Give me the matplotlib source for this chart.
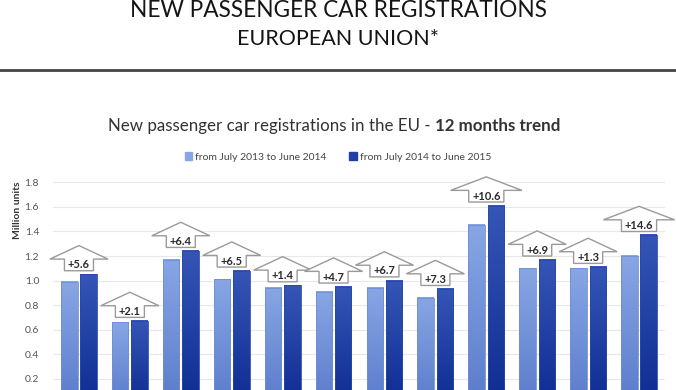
import numpy as np
import matplotlib
matplotlib.use("Agg")
import matplotlib.pyplot as plt
from matplotlib.lines import Line2D

plt.rcParams['font.family'] = ['Lato', 'DejaVu Sans']

# --- data (million units) ---
periods = ["from July 2013 to June 2014", "from July 2014 to June 2015"]
prev_year = [0.99, 0.66, 1.17, 1.01, 0.94, 0.91, 0.94, 0.86, 1.455, 1.10, 1.10, 1.20]
this_year = [1.05, 0.67, 1.24, 1.08, 0.96, 0.95, 1.00, 0.93, 1.61, 1.17, 1.11, 1.37]
growth = ["+5.6", "+2.1", "+6.4", "+6.5", "+1.4", "+4.7", "+6.7", "+7.3",
          "+10.6", "+6.9", "+1.3", "+14.6"]
yticks = [0.2, 0.4, 0.6, 0.8, 1.0, 1.2, 1.4, 1.6, 1.8]

light_top, light_bot = "#88a6e4", "#5b7ccc"
dark_top, dark_bot = "#3556b6", "#0f2c92"

fig = plt.figure(figsize=(6.76, 3.9), dpi=100)

# header
fig.text(0.5, 1 - 17 / 390, "NEW PASSENGER CAR REGISTRATIONS", ha="center",
         va="baseline", fontsize=16.3, color="#151515")
fig.text(0.5, 1 - 45 / 390, "EUROPEAN UNION*", ha="center", va="baseline",
         fontsize=15.5, color="#151515")
fig.add_artist(Line2D([0, 1], [1 - 70 / 390] * 2, color="#454545", lw=2,
                      transform=fig.transFigure))

# subtitle
fig.text(431 / 676, 1 - 131 / 390, "New passenger car registrations in the EU -",
         ha="right", va="baseline", fontsize=12.2, color="#333333")
fig.text(435 / 676, 1 - 131 / 390, "12 months trend", ha="left", va="baseline",
         fontsize=12.2, color="#333333", fontweight="bold")

ax = fig.add_axes([53 / 676, -0.0341, 612 / 676, 0.5979])
x = np.arange(len(prev_year))
w = 0.325
off = 0.19

def grad_bars(bars, top, bot):
    cmap = matplotlib.colors.LinearSegmentedColormap.from_list("g", [bot, top])
    g = np.linspace(0, 1, 64).reshape(-1, 1)
    for b in bars:
        x0, h, bw = b.get_x(), b.get_height(), b.get_width()
        ax.imshow(g, cmap=cmap, aspect="auto", origin="lower",
                  extent=(x0, x0 + bw, 0, h), zorder=2)

b1 = ax.bar(x - off, prev_year, w, color="none", edgecolor="#6f8ed6", lw=0.6, zorder=3)
b2 = ax.bar(x + off, this_year, w, color="none", edgecolor="#2a48a8", lw=0.6, zorder=3)
grad_bars(b1, light_top, light_bot)
grad_bars(b2, dark_top, dark_bot)

# growth arrows
for xi, v, lab in zip(x, this_year, growth):
    long_lab = len(lab) > 4
    bw = 0.345 if long_lab else 0.285
    hw = 0.70 if long_lab else 0.57
    y0 = v + 0.03
    y1 = y0 + 0.095
    y2 = y1 + 0.11
    px = [xi - bw, xi + bw, xi + bw, xi + hw, xi, xi - hw, xi - bw, xi - bw]
    py = [y0, y0, y1, y1, y2, y1, y1, y0]
    ax.fill(px, py, facecolor="white", edgecolor="#9a9a9a", lw=1.0,
            zorder=4, clip_on=False)
    ax.text(xi, y0 + 0.048, lab, ha="center", va="center", fontsize=8,
            fontweight="bold", color="#2b2b2b", zorder=5)

ax.set_xlim(-0.51, 11.51)
ax.set_ylim(0, 1.9)
ax.set_yticks(yticks)
ax.set_yticklabels([f"{t:.1f}" for t in yticks], fontsize=7.5, color="#555555")
ax.set_xticks([])
ax.grid(axis="y", color="#e8e8e8", lw=0.8, zorder=0)
ax.tick_params(axis="y", length=0, pad=10)
for s in ax.spines.values():
    s.set_visible(False)
ax.set_ylabel("Million units", fontsize=7.5, fontweight="bold", color="#333333")
ax.yaxis.set_label_coords(-0.05, 0.83)

# legend
handles = [plt.Rectangle((0, 0), 1, 1, color=light_top),
           plt.Rectangle((0, 0), 1, 1, color="#1f3fa6")]
fig.legend(handles, periods, loc="center", bbox_to_anchor=(338 / 676, 1 - 157 / 390),
           ncol=2, frameon=False, fontsize=7.5, handlelength=0.7, handleheight=0.7,
           handletextpad=0.3, columnspacing=2.2, labelcolor="#444444")

fig.savefig("out.png", dpi=100)
